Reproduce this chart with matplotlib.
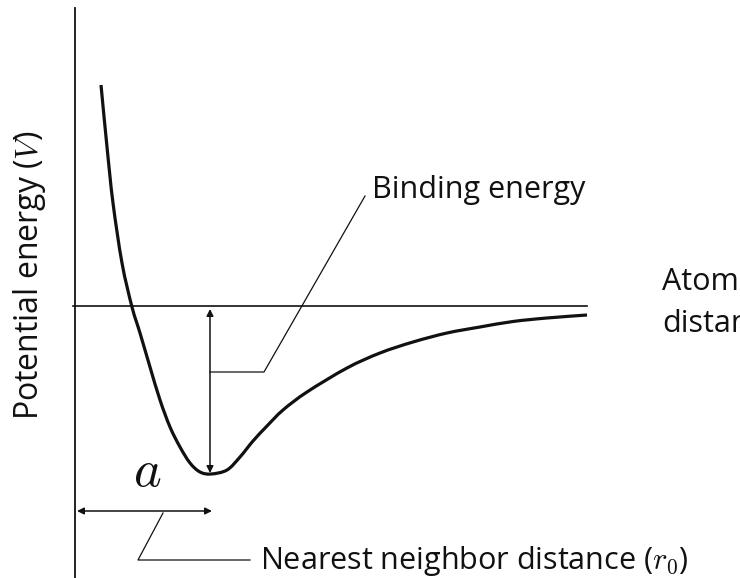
import numpy as np
import matplotlib.pyplot as plt
from matplotlib.path import Path
from matplotlib.patches import PathPatch

plt.rcParams['mathtext.fontset'] = 'cm'

# potential curve (x = distance, y = energy, in picture units)
r_curve = [101, 107, 113, 122, 132, 140, 150, 160, 170, 180, 190, 200, 211,
           227, 240, 253, 267, 283, 307, 347, 380, 413, 447, 480, 513, 547, 587]
V_curve = [85, 147, 203, 263, 307, 333, 367, 400, 427, 447, 463, 472, 474,
           470, 457, 441, 426, 410, 392, 368, 353, 342, 333, 327, 321.5, 318, 315]

V_zero = 306
r_axis = 75
r_end = 587
r_min = 210
V_min = 473
V_nn = 511

# leader lines
binding_leader_x = [210, 264, 365]
binding_leader_y = [372, 372, 196]
nn_leader_x = [163, 138, 250]
nn_leader_y = [513, 560, 560]

fig = plt.figure(figsize=(7.4, 5.78), dpi=100)
ax = fig.add_axes([0, 0, 1, 1])
ax.set_xlim(0, 740)
ax.set_ylim(578, 0)
ax.axis('off')

ink = '#111111'
font = 'Open Sans'
fs = 22

# axes
ax.plot([r_axis, r_axis], [8, 578], color=ink, lw=1.3)
ax.plot([73, r_end], [V_zero, V_zero], color=ink, lw=1.2)

# curve: smooth path through the read points (Catmull-Rom -> Bezier)
pts = np.column_stack([r_curve, V_curve]).astype(float)
verts = [pts[0]]
codes = [Path.MOVETO]
for i in range(len(pts) - 1):
    p0 = pts[max(i - 1, 0)]
    p1 = pts[i]
    p2 = pts[i + 1]
    p3 = pts[min(i + 2, len(pts) - 1)]
    verts += [p1 + (p2 - p0) / 6, p2 - (p3 - p1) / 6, p2]
    codes += [Path.CURVE4] * 3
ax.add_patch(PathPatch(Path(verts, codes), facecolor='none', edgecolor=ink,
                       lw=2.3, capstyle='butt'))

# binding energy arrow
ax.annotate('', xy=(r_min, V_zero + 3), xytext=(r_min, V_min),
            arrowprops=dict(arrowstyle='<|-|>', color=ink, lw=1.1,
                            mutation_scale=10, shrinkA=0, shrinkB=0))
ax.plot(binding_leader_x, binding_leader_y, color=ink, lw=0.9)
ax.text(372, 198, 'Binding energy', fontsize=fs, family=font,
        color=ink, va='baseline', ha='left')

# nearest neighbour arrow
ax.annotate('', xy=(r_axis + 2, V_nn), xytext=(r_min + 2, V_nn),
            arrowprops=dict(arrowstyle='<|-|>', color=ink, lw=1.1,
                            mutation_scale=10, shrinkA=0, shrinkB=0))
ax.plot(nn_leader_x, nn_leader_y, color=ink, lw=0.9)
ax.text(260, 569, r'Nearest neighbor distance ($r_0$)', fontsize=fs,
        family=font, color=ink, va='baseline', ha='left')

# axis labels
ax.text(662, 290, 'Atomic', fontsize=fs, family=font, color=ink,
        va='baseline', ha='left')
ax.text(662, 332, 'distance', fontsize=fs, family=font, color=ink,
        va='baseline', ha='left')
ax.text(30, 275, r'Potential energy ($V$)', fontsize=23, family=font,
        color=ink, va='center', ha='center', rotation=90)

ax.text(147, 471, r'$a$', fontsize=38, color=ink, va='center', ha='center')

fig.savefig('out.png', dpi=100, facecolor='white')
